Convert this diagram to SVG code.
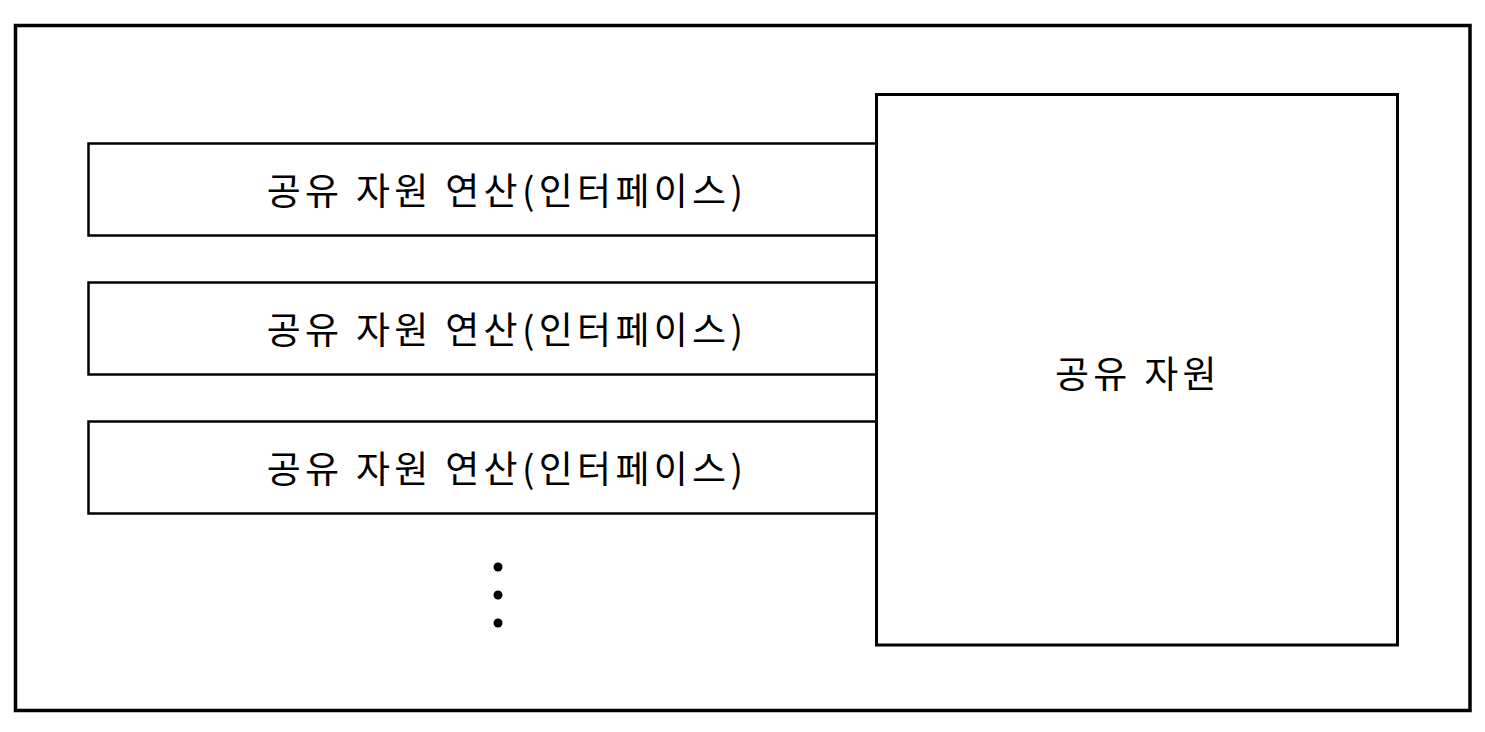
<svg xmlns="http://www.w3.org/2000/svg" width="1485" height="732" viewBox="0 0 1485 732">
<style>
.frame{fill:#fff;stroke:#000;stroke-width:3.5}
.iface{fill:#fff;stroke:#000;stroke-width:2.5}
.res{fill:#fff;stroke:#000;stroke-width:3}
.lbl{font-family:"Noto Sans CJK KR","Noto Sans",sans-serif;font-size:37px;letter-spacing:4.3px;fill:#000;text-anchor:middle;dominant-baseline:central}
</style>
<rect width="1485" height="732" fill="#fff"/>
<g id="frame"><rect class="frame" x="15.5" y="25.5" width="1454.5" height="685"/></g>
<g id="iface1"><rect class="iface" x="88.5" y="143.5" width="788" height="92"/><text class="lbl" x="507" y="189">공유 자원 연산(인터페이스)</text></g>
<g id="iface2"><rect class="iface" x="88.5" y="282.5" width="788" height="92"/><text class="lbl" x="507" y="328">공유 자원 연산(인터페이스)</text></g>
<g id="iface3"><rect class="iface" x="88.5" y="421.5" width="788" height="92"/><text class="lbl" x="507" y="467">공유 자원 연산(인터페이스)</text></g>
<g id="resource"><rect class="res" x="876.5" y="94.5" width="521" height="550.5"/><text class="lbl" x="1138" y="372">공유 자원</text></g>
<g id="ellipsis"><circle cx="498" cy="567" r="4.5"/><circle cx="498" cy="595" r="4.5"/><circle cx="498" cy="623" r="4.5"/></g>
<g id="connectors"></g>
</svg>
